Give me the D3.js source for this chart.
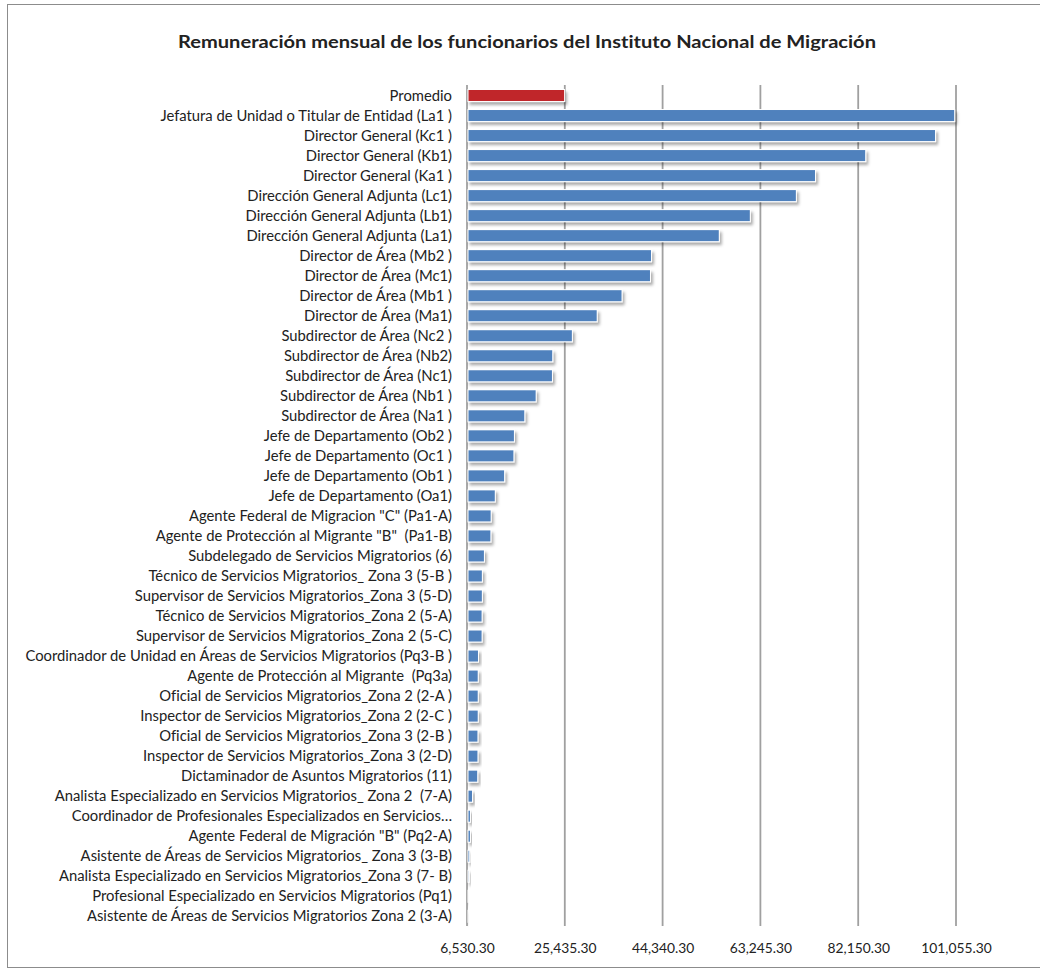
<!DOCTYPE html>
<html>
<head>
<meta charset="utf-8">
<script src="https://cdn.jsdelivr.net/npm/d3@7"></script>
<style>
  body { margin: 0; background: #fff; }
  svg text { font-family: Lato, "Open Sans", sans-serif; white-space: pre; fill: #222;
             font-variant-ligatures: none; font-feature-settings: "liga" 0, "dlig" 0; }
</style>
</head>
<body>
<div id="chart"></div>
<script>
var title = "Remuneración mensual de los funcionarios del Instituto Nacional de Migración";

var puestos = [
    "Promedio",
    "Jefatura de Unidad o Titular de Entidad (La1 )",
    "Director General (Kc1 )",
    "Director General (Kb1)",
    "Director General (Ka1 )",
    "Dirección General Adjunta (Lc1)",
    "Dirección General Adjunta (Lb1)",
    "Dirección General Adjunta (La1)",
    "Director de Área (Mb2 )",
    "Director de Área (Mc1)",
    "Director de Área (Mb1 )",
    "Director de Área (Ma1)",
    "Subdirector de Área (Nc2 )",
    "Subdirector de Área (Nb2)",
    "Subdirector de Área (Nc1)",
    "Subdirector de Área (Nb1 )",
    "Subdirector de Área (Na1 )",
    "Jefe de Departamento (Ob2 )",
    "Jefe de Departamento (Oc1 )",
    "Jefe de Departamento (Ob1 )",
    "Jefe de Departamento (Oa1)",
    "Agente Federal de Migracion \"C\" (Pa1-A)",
    "Agente de Protección al Migrante \"B\"  (Pa1-B)",
    "Subdelegado de Servicios Migratorios (6)",
    "Técnico de Servicios Migratorios_ Zona 3 (5-B )",
    "Supervisor de Servicios Migratorios_Zona 3 (5-D)",
    "Técnico de Servicios Migratorios_Zona 2 (5-A)",
    "Supervisor de Servicios Migratorios_Zona 2 (5-C)",
    "Coordinador de Unidad en Áreas de Servicios Migratorios (Pq3-B )",
    "Agente de Protección al Migrante  (Pq3a)",
    "Oficial de Servicios Migratorios_Zona 2 (2-A )",
    "Inspector de Servicios Migratorios_Zona 2 (2-C )",
    "Oficial de Servicios Migratorios_Zona 3 (2-B )",
    "Inspector de Servicios Migratorios_Zona 3 (2-D)",
    "Dictaminador de Asuntos Migratorios (11)",
    "Analista Especializado en Servicios Migratorios_ Zona 2  (7-A)",
    "Coordinador de Profesionales Especializados en Servicios…",
    "Agente Federal de Migración \"B\" (Pq2-A)",
    "Asistente de Áreas de Servicios Migratorios_ Zona 3 (3-B)",
    "Analista Especializado en Servicios Migratorios_Zona 3 (7- B)",
    "Profesional Especializado en Servicios Migratorios (Pq1)",
    "Asistente de Áreas de Servicios Migratorios Zona 2 (3-A)"
];

var remuneracion = [
    25300, 100700, 97000, 83500, 73800, 70100, 61200, 55200,
    42100, 41900, 36400, 31600, 26800, 23000, 22950, 19800, 17600,
    15600, 15500, 13700, 11900, 11100, 11050, 9800, 9400, 9400, 9350, 9350,
    8650, 8600, 8600, 8600, 8550, 8550, 8500, 7500, 7100, 7100, 6950, 6850,
    6600, 6530.3
];

var tickValues = [6530.30, 25435.30, 44340.30, 63245.30, 82150.30, 101055.30];

var W = 1040, H = 970;
var data = puestos.map(function(p, i) { return {name: p, value: remuneracion[i]}; });

var svg = d3.select("#chart").append("svg")
    .attr("width", W).attr("height", H);

var defs = svg.append("defs");
var shadow = defs.append("filter").attr("id", "sombra")
    .attr("x", "-5%").attr("y", "-40%").attr("width", "130%").attr("height", "220%");
shadow.append("feDropShadow")
    .attr("dx", 2).attr("dy", 3).attr("stdDeviation", 1.6)
    .attr("flood-color", "#000").attr("flood-opacity", 0.33);

// marco
svg.append("rect")
    .attr("x", 7.5).attr("y", 4.5)
    .attr("width", 1040).attr("height", 963)
    .attr("fill", "none").attr("stroke", "#8c8c8c").attr("stroke-width", 1);

svg.append("text")
    .attr("x", 527).attr("y", 48)
    .attr("text-anchor", "middle")
    .attr("font-size", 16.5).attr("font-weight", "bold")
    .attr("textLength", 698).attr("lengthAdjust", "spacingAndGlyphs")
    .text(title);

var xScale = d3.scaleLinear()
    .domain([6530.3, 101055.3])
    .range([467, 956]);

var yScale = d3.scaleBand()
    .domain(puestos)
    .range([85.5, 926.3])
    .paddingInner(0.45).paddingOuter(0.225);

var x0 = xScale(6530.3);

// rejilla
svg.append("g").selectAll("line")
    .data(tickValues).enter().append("line")
    .attr("x1", function(d) { return xScale(d); })
    .attr("x2", function(d) { return xScale(d); })
    .attr("y1", 85).attr("y2", 926)
    .attr("stroke", "#a0a0a0").attr("stroke-width", 1.8);

// barras: borde blanco con sombra, luego el relleno
var barras = svg.append("g").selectAll("g")
    .data(data).enter().append("g");

barras.append("rect")
    .attr("x", x0 + 0.5)
    .attr("y", function(d) { return yScale(d.name) - 1; })
    .attr("width", function(d) { return xScale(d.value) - x0 + 0.5; })
    .attr("height", yScale.bandwidth() + 2)
    .attr("fill", "#fff")
    .attr("filter", "url(#sombra)");

barras.append("rect")
    .attr("x", x0 + 1.5)
    .attr("y", function(d) { return yScale(d.name); })
    .attr("width", function(d) { return Math.max(0, xScale(d.value) - x0 - 1.5); })
    .attr("height", yScale.bandwidth())
    .attr("fill", function(d, i) { return i == 0 ? "#c0262a" : "#4f81bd"; });

// etiquetas de categorias
svg.append("g").selectAll("text")
    .data(data).enter().append("text")
    .attr("x", 452)
    .attr("y", function(d) { return yScale(d.name) + yScale.bandwidth() / 2; })
    .attr("dy", "0.35em")
    .attr("text-anchor", "end")
    .attr("font-size", 14.8)
    .text(function(d) { return d.name; });

var xAxis = d3.axisBottom(xScale)
    .tickValues(tickValues)
    .tickFormat(d3.format(",.2f"))
    .tickSize(0).tickPadding(0);

var gx = svg.append("g")
    .attr("transform", "translate(0,948)")
    .call(xAxis);
gx.select(".domain").remove();
gx.selectAll("text")
    .attr("dy", "0.35em")
    .attr("font-size", 13.8)
    .style("font-family", "Lato, 'Open Sans', sans-serif")
    .attr("fill", "#222");
</script>
</body>
</html>
